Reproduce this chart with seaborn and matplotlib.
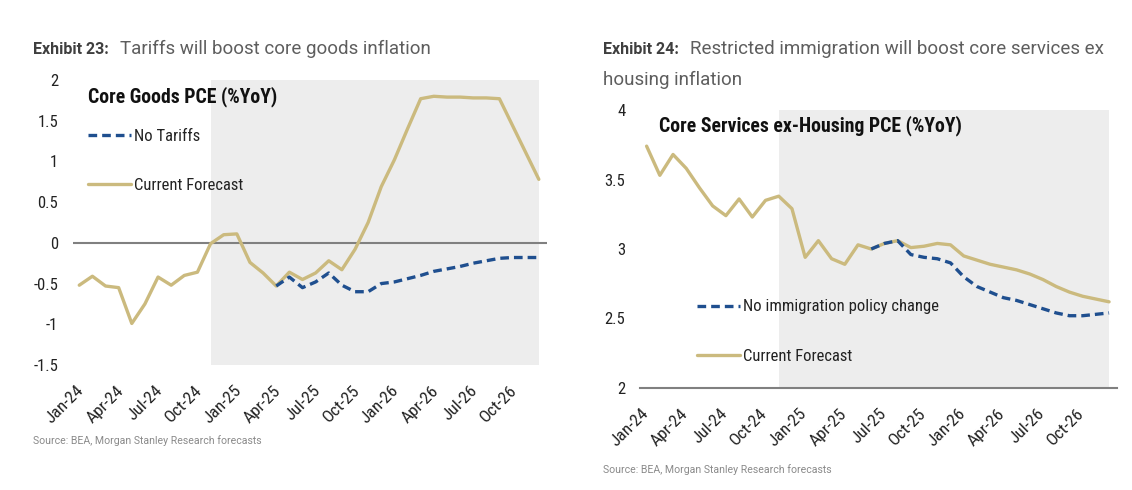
import numpy as np
import pandas as pd
import matplotlib
matplotlib.use("Agg")
import matplotlib.pyplot as plt
import matplotlib.transforms as mtransforms
import seaborn as sns
from matplotlib.lines import Line2D

# ---------------- data ----------------
months = pd.date_range("2024-01-01", periods=36, freq="MS")
month_labels = [d.strftime("%b-%y") for d in months]
tick_labels = month_labels[::3]

goods_current = [-0.52, -0.41, -0.53, -0.55, -0.99, -0.75, -0.42, -0.52, -0.40, -0.36,
                 -0.01, 0.10, 0.11, -0.24, -0.37, -0.53, -0.36, -0.45, -0.37, -0.22,
                 -0.33, -0.08, 0.25, 0.69, 1.02, 1.40, 1.77, 1.80, 1.79, 1.79,
                 1.78, 1.78, 1.77, 1.44, 1.11, 0.78]
goods_no_tariffs_start = 15
goods_no_tariffs = [-0.53, -0.42, -0.55, -0.48, -0.37, -0.52, -0.60, -0.60, -0.50, -0.48,
                    -0.44, -0.40, -0.35, -0.32, -0.29, -0.25, -0.22, -0.19, -0.18, -0.18,
                    -0.18]

services_current = [3.74, 3.53, 3.68, 3.58, 3.44, 3.31, 3.24, 3.36, 3.23, 3.35,
                    3.38, 3.29, 2.94, 3.06, 2.93, 2.89, 3.03, 3.00, 3.04, 3.06,
                    3.01, 3.02, 3.04, 3.03, 2.95, 2.92, 2.89, 2.87, 2.85, 2.82,
                    2.78, 2.73, 2.69, 2.66, 2.64, 2.62]
services_no_immig_start = 17
services_no_immig = [3.00, 3.04, 3.06, 2.96, 2.94, 2.93, 2.90, 2.80, 2.73, 2.69,
                     2.65, 2.63, 2.60, 2.57, 2.54, 2.52, 2.52, 2.53, 2.54]

forecast_start = 10  # shaded forecast region starts at Nov-24

# ---------------- style ----------------
GOLD = "#CBBA7E"
BLUE = "#1F4F8F"
SHADE = "#EDEDED"
AXGRAY = "#808080"
DASH = (0, (2.6, 1.5))

sns.set_theme(style="white")
plt.rcParams["font.family"] = ["Roboto", "DejaVu Sans"]
COND = ["Roboto Condensed", "Roboto", "DejaVu Sans"]

W, H = 1132, 490
fig = plt.figure(figsize=(W / 100, H / 100), dpi=100)
fig.patch.set_facecolor("white")


def px_axes(x0, y0, x1, y1):
    return fig.add_axes([x0 / W, 1 - y1 / H, (x1 - x0) / W, (y1 - y0) / H])


def draw_panel(ax, cur, alt, alt_start, ylim, yticks, xshift_px):
    idx = np.arange(len(cur))
    ax.axvspan(forecast_start, len(cur) - 1, color=SHADE, zorder=0, lw=0)
    df_cur = pd.DataFrame({"m": idx, "v": cur})
    df_alt = pd.DataFrame({"m": np.arange(alt_start, alt_start + len(alt)), "v": alt})
    sns.lineplot(data=df_cur, x="m", y="v", ax=ax, color=GOLD, linewidth=2.4, zorder=3)
    sns.lineplot(data=df_alt, x="m", y="v", ax=ax, color=BLUE, linewidth=2.4,
                 linestyle=DASH, zorder=4)
    ax.set_xlim(-0.5, len(cur) - 0.4)
    ax.set_ylim(*ylim)
    ax.set_yticks(yticks)
    ax.set_yticklabels([f"{t:g}" for t in yticks], fontfamily=COND, fontsize=12, color="#222222")
    ax.set_xticks(np.arange(0, len(cur), 3))
    ax.set_xticklabels(tick_labels, rotation=45, ha="right", rotation_mode="anchor",
                       fontfamily=COND, fontsize=12.5, color="#222222")
    ax.tick_params(axis="y", length=0, pad=10.5)
    ax.tick_params(axis="x", length=0, pad=13)
    shift = mtransforms.ScaledTranslation(xshift_px / 100, 0, fig.dpi_scale_trans)
    for lab in ax.get_xticklabels():
        lab.set_transform(lab.get_transform() + shift)
    ax.set_xlabel("")
    ax.set_ylabel("")
    for s in ax.spines.values():
        s.set_visible(False)
    ax.set_facecolor("white")
    handles = [Line2D([], [], color=BLUE, lw=2.4, linestyle=DASH),
               Line2D([], [], color=GOLD, lw=2.4)]
    return handles


LEG = dict(loc="upper left", frameon=False, prop={"family": COND, "size": 12},
           handlelength=2.55, handletextpad=0.2, borderpad=0, borderaxespad=0,
           labelspacing=2.05, labelcolor="#222222")

# ---------------- left panel ----------------
ax1 = px_axes(72.7, 80, 546.7, 365)
h1 = draw_panel(ax1, goods_current, goods_no_tariffs, goods_no_tariffs_start,
                (-1.5, 2), [2, 1.5, 1, 0.5, 0, -0.5, -1, -1.5], -3)
ax1.axhline(0, color=AXGRAY, lw=1.5, zorder=2)
ax1.text((88 - 72.7) / 474, (365 - 97) / 285, "Core Goods PCE (%YoY)", transform=ax1.transAxes,
         fontfamily=COND, fontweight="bold", fontsize=14.2, color="#111111", va="center", ha="left")
ax1.legend(h1, ["No Tariffs", "Current Forecast"],
           bbox_to_anchor=((88 - 72.7) / 474, (365 - 129) / 285), **LEG)

# ---------------- right panel ----------------
ax2 = px_axes(640, 110, 1117, 388)
h2 = draw_panel(ax2, services_current, services_no_immig, services_no_immig_start,
                (2, 4), [4, 3.5, 3, 2.5, 2], -6)
ax2.spines["bottom"].set_visible(True)
ax2.spines["bottom"].set_color(AXGRAY)
ax2.spines["bottom"].set_linewidth(1.5)
ax2.text((659 - 640) / 477, (388 - 126) / 278, "Core Services ex-Housing PCE (%YoY)",
         transform=ax2.transAxes, fontfamily=COND, fontweight="bold", fontsize=14.2,
         color="#111111", va="center", ha="left")
ax2.legend(h2, ["No immigration policy change", "Current Forecast"],
           bbox_to_anchor=((697 - 640) / 477, (388 - 299.5) / 278), **LEG)

# ---------------- titles & sources ----------------
def exhibit_title(x, y, bold, rest_lines):
    t = fig.text(x / W, 1 - y / H, bold, fontweight="bold", fontsize=11.5,
                 color="#3F3F3F", va="center", ha="left")
    fig.add_artist(matplotlib.text.Annotation(
        rest_lines[0], xy=(1, 0.5), xycoords=t, xytext=(8, 0), textcoords="offset points",
        fontsize=13.5, color="#5E5E5E", va="center", ha="left"))
    for k, line in enumerate(rest_lines[1:], start=1):
        fig.text(x / W, 1 - (y + 30.5 * k) / H, line, fontsize=13.5, color="#5E5E5E",
                 va="center", ha="left")


exhibit_title(33, 49, "Exhibit 23:", ["Tariffs will boost core goods inflation"])
exhibit_title(603, 49, "Exhibit 24:", ["Restricted immigration will boost core services ex",
                                        "housing inflation"])

fig.text(33 / W, 1 - 441 / H, "Source: BEA, Morgan Stanley Research forecasts",
         fontsize=7.6, color="#8A8A8A", va="center", ha="left")
fig.text(603 / W, 1 - 470 / H, "Source: BEA, Morgan Stanley Research forecasts",
         fontsize=7.6, color="#8A8A8A", va="center", ha="left")

fig.savefig("out.png", dpi=100, facecolor="white")
